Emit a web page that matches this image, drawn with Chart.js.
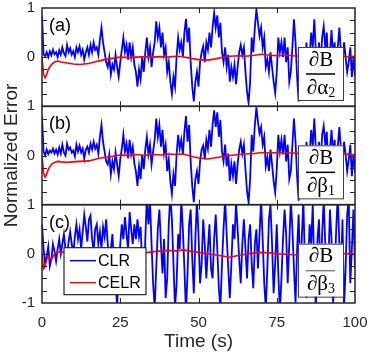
<!DOCTYPE html>
<html>
<head>
<meta charset="utf-8">
<script src="https://cdn.jsdelivr.net/npm/chart.js@4.4.1/dist/chart.umd.min.js"></script>
<style>
  html, body { margin: 0; padding: 0; background: #fff; }
  #wrap { width: 374px; height: 359px; }
</style>
</head>
<body>
<div id="wrap"><canvas id="errChart" width="374" height="359"></canvas></div>
<script>
// sampling of the CLR traces (s between samples)
const sampleStep = 0.5;

// CLR (blue), panel (a), one value every 0.5 s from 0 to 100 s
const clrA = [
  0.85, 0.05, 0.02, 0.1, 0.0, 0.12, 0.04, 0.15, 0.06, 0.1,
  0.0, 0.14, 0.05, 0.2, 0.08, 0.02, 0.25, 0.1, 0.18, 0.05,
  0.12, 0.0, 0.2, 0.1, 0.22, 0.05, 0.15, -0.05, 0.1, 0.2,
  0.05, 0.25, 0.1, 0.3, 0.15, 0.2, 0.05, 0.35, 0.6, 0.3,
  0.1, -0.1, -0.2, 0.0, -0.35, -0.15, -0.25, 0.05, -0.2, -0.4,
  -0.1, 0.15, 0.4, 0.1, 0.25, -0.05, 0.3, 0.0, 0.2, -0.15,
  -0.3, -0.6, -0.25, -0.45, 0.0, -0.3, 0.1, 0.4, 0.0, 0.2,
  -0.2, 0.1, 0.3, 0.73, 0.4, 0.6, 0.2, 0.5, 0.05, 0.2,
  -0.3, -0.1, -0.5, -0.75, -0.4, -0.6, 0.0, 0.4, 0.15, 0.3,
  0.0, 0.5, 0.78, 0.3, 0.6, -0.1, -0.6, -0.9, -0.5, -0.3,
  -0.6, -0.1, 0.1, 0.22, -0.1, 0.3, 0.15, 0.5, 0.2, 0.6,
  0.9, 0.6, 0.85, 0.4, 0.7, 0.1, -0.1, 0.2, -0.2, 0.05,
  -0.5, -0.2, -0.4, -0.15, -0.55, -0.2, 0.1, 0.25, 0.05, 0.2,
  -0.3, -0.7, -0.93, -0.5, 0.4, 0.1, 0.6, 0.97, 0.7, 0.43,
  0.6, 0.2, 0.4, -0.2, -0.05, -0.3, 0.1, -0.2, -0.5, -0.73,
  -0.3, 0.4, 0.1, 0.3, 0.0, 0.4, -0.1, 0.2, -0.5, -0.3,
  0.2, 0.77, 0.3, -0.4, -0.9, -0.6, -0.2, 0.1, -0.4, 0.3,
  -0.3, 0.0, 0.5, 0.2, 0.77, 0.1, -0.5, 0.3, -0.2, 0.4,
  0.63, 0.2, 0.5, -0.4, 0.1, 0.55, 0.0, 0.3, -0.3, 0.2,
  0.6, 0.1, -0.2, 0.3, 0.0, -0.3, -0.1, 0.2, -0.4, 0.0,
  -0.4
];

// CLR, panel (b)
const clrB = [
  0.8, 0.08, 0.0, 0.12, 0.03, 0.1, 0.06, 0.14, 0.04, 0.12,
  0.02, 0.16, 0.04, 0.22, 0.06, 0.0, 0.24, 0.12, 0.16, 0.06,
  0.1, -0.02, 0.22, 0.08, 0.2, 0.06, 0.14, -0.06, 0.12, 0.18,
  0.06, 0.24, 0.12, 0.28, 0.14, 0.22, 0.04, 0.38, 0.62, 0.28,
  0.08, -0.12, -0.18, 0.02, -0.38, -0.12, -0.28, 0.06, -0.18, -0.42,
  -0.08, 0.14, 0.42, 0.08, 0.24, -0.06, 0.32, 0.02, 0.18, -0.16,
  -0.32, -0.62, -0.22, -0.48, 0.02, -0.28, 0.12, 0.38, 0.02, 0.22,
  -0.18, 0.08, 0.32, 0.75, 0.38, 0.62, 0.18, 0.52, 0.04, 0.22,
  -0.32, -0.08, -0.52, -0.78, -0.38, -0.62, 0.02, 0.42, 0.14, 0.32,
  0.02, 0.48, 0.8, 0.28, 0.62, -0.12, -0.62, -0.95, -0.48, -0.32,
  -0.58, -0.12, 0.12, 0.2, -0.08, 0.32, 0.14, 0.52, 0.18, 0.62,
  0.92, 0.58, 0.88, 0.38, 0.72, 0.08, -0.12, 0.22, -0.22, 0.04,
  -0.52, -0.18, -0.42, -0.12, -0.58, -0.18, 0.12, 0.28, 0.04, 0.22,
  -0.28, -0.72, -0.95, -0.48, 0.42, 0.08, 0.62, 0.98, 0.68, 0.45,
  0.58, 0.22, 0.38, -0.22, -0.04, -0.32, 0.12, -0.18, -0.52, -0.75,
  -0.28, 0.42, 0.08, 0.32, 0.02, 0.42, -0.12, 0.22, -0.48, -0.32,
  0.22, 0.75, 0.28, -0.42, -0.92, -0.58, -0.22, 0.12, -0.42, 0.28,
  -0.32, 0.02, 0.52, 0.18, 0.75, 0.12, -0.52, 0.28, -0.22, 0.42,
  0.6, 0.22, 0.48, -0.42, 0.12, 0.52, 0.02, 0.32, -0.28, 0.18,
  0.58, 0.12, -0.22, 0.28, 0.02, -0.32, -0.08, 0.22, -0.42, 0.02,
  -0.35
];

// CLR, panel (c) - much noisier, runs off the axes
const clrC = [
  0.6, 0.1, -0.2, -0.05, 0.15, -0.25, -0.1, 0.2, 0.05, -0.15,
  0.1, 0.3, 0.0, 0.2, 0.4, 0.1, -0.05, 0.25, 0.45, 0.2,
  0.0, 0.35, 0.6, 0.3, 0.5, 0.1, 0.45, 0.8, 0.55, 0.25,
  0.7, 0.78, 0.3, 0.05, 0.5, 0.6, 0.2, 0.45, 0.1, 0.55,
  0.35, 0.7, 0.2, -0.3, 0.1, 0.4, -0.2, -0.6, -1.05, -0.4,
  0.2, 0.6, 0.3, 0.75, 0.4, 0.1, 0.85, 0.5, 0.2, 0.6,
  0.3, 0.7, 0.35, 0.55, -0.2, -0.8, 0.3, 1.15, 0.6, 1.05,
  0.2, -0.6, -1.1, -0.3, 0.5, 0.9, 0.2, -0.4, 0.3, -0.9,
  -0.5, 0.6, 1.2, 0.7, -0.2, -1.1, -0.6, 0.4, 0.1, 1.1,
  0.5, -0.3, -1.2, -0.4, 0.6, 0.9, -0.1, -0.8, 0.3, 1.1,
  0.4, -0.6, -0.2, 0.7, 0.2, -0.5, 0.1, 0.6, -0.3, -0.5,
  0.3, 0.8, 0.1, -0.7, -1.1, -0.2, 0.5, 1.1, 0.4, -0.3,
  -0.9, -0.2, 0.6, 0.3, 1.05, 0.5, -0.1, -0.6, 0.2, 0.7,
  0.1, -0.5, 0.3, 0.6, -0.2, -0.7, 0.2, 0.5, -0.3, 0.4,
  1.1, 0.3, -0.6, -1.1, -0.3, 0.7, 1.0, 0.2, -0.8, -0.2,
  0.6, -0.4, -1.2, -0.5, 0.3, 0.9, 0.4, -0.6, 0.2, 1.1,
  0.5, -0.3, -1.0, 0.1, 0.8, -0.5, 0.3, 1.1, -0.2, -0.9,
  -0.3, 0.6, 0.2, 1.0, -0.4, -1.1, 0.3, 0.7, -0.6, 0.4,
  1.1, 0.2, -0.7, -0.2, 0.9, 0.3, -1.0, -0.4, 0.5, 1.2,
  0.2, -0.5, 0.7, -1.1, -0.3, 0.8, 1.1, -0.6, 0.1, 0.9,
  -0.3
];

// CELR (red) is smooth, so it is read at fewer times
const celrTimes = [0, 0.5, 1, 1.5, 2, 3, 4, 5, 6, 8, 10, 12, 15, 18, 20, 23, 25, 28, 30, 33, 35, 38, 40, 43,
  45, 48, 50, 53, 55, 58, 60, 63, 65, 68, 70, 73, 75, 78, 80, 83, 85, 88, 90, 93, 95, 98, 100];
const celrA = [0, -0.35, -0.42, -0.35, -0.25, -0.15, -0.1, -0.08, -0.1, -0.12, -0.14, -0.15, -0.13, -0.08, -0.05, -0.02,
  0.0, -0.01, 0.0, 0.01, 0.0, 0.01, 0.0, 0.02, 0.01, -0.03, -0.05, -0.06, -0.04, 0.0, 0.02, 0.03, 0.02, 0.04,
  0.06, 0.04, 0.03, 0.04, 0.03, 0.02, 0.03, 0.02, 0.03, 0.02, 0.02, 0.01, 0.02];
const celrB = [0, -0.35, -0.44, -0.38, -0.28, -0.18, -0.14, -0.12, -0.13, -0.14, -0.13, -0.12, -0.11, -0.06, -0.04, -0.01,
  0.01, 0.0, 0.02, 0.0, 0.02, 0.01, 0.03, 0.02, 0.03, -0.02, -0.05, -0.07, -0.05, -0.02, 0.0, 0.02, 0.03, 0.04,
  0.06, 0.05, 0.06, 0.05, 0.05, 0.04, 0.05, 0.03, 0.04, 0.03, 0.02, 0.03, 0.01];
const celrC = [0, -0.3, -0.25, -0.12, -0.05, -0.12, 0.0, 0.05, 0.02, 0.06, 0.05, 0.07, 0.05, 0.06, 0.04, 0.05,
  0.03, 0.04, 0.03, 0.02, 0.04, 0.06, 0.07, 0.06, 0.08, 0.05, 0.03, 0.0, -0.02, -0.05, -0.07, -0.03, -0.01, 0.02,
  0.03, 0.02, 0.0, -0.01, -0.02, -0.03, -0.01, 0.0, -0.01, 0.0, 0.01, 0.0, 0.0];

const xTicks = [0, 25, 50, 75, 100];
const panelNames = ['(a)', '(b)', '(c)'];
// partial derivative shown in each panel: numerator, denominator, subscript
const panelDerivs = [['\u2202B', '\u2202\u03b1', '2'], ['\u2202B', '\u2202\u03b2', '1'], ['\u2202B', '\u2202\u03b2', '3']];

const axisColor = '#262626';
const sans = '"Liberation Sans", Arial, sans-serif';
const serif = '"Liberation Serif", "Times New Roman", serif';

function toPoints(times, values) {
  return values.map((v, i) => ({x: times[i], y: v}));
}
const clrTimes = clrA.map((_, i) => i * sampleStep);

// label gap comes from an invisible tick mark, so the layout padding stays small
function yAxis(weight, showBottom, withTitle) {
  return {
    type: 'linear',
    position: 'left',
    stack: 'panels',
    stackWeight: 1,
    weight: weight,
    min: -1,
    max: 1,
    grid: {display: true, drawOnChartArea: false, drawTicks: true, tickLength: 7, tickColor: 'rgba(0,0,0,0)'},
    border: {display: false},
    ticks: {
      stepSize: 1,
      padding: 0,
      color: axisColor,
      font: {family: sans, size: 15, lineHeight: 1},
      callback: v => (v === -1 && !showBottom) ? '' : String(v)
    },
    title: {
      display: withTitle,
      text: 'Normalized Error',
      color: axisColor,
      font: {family: sans, size: 19},
      padding: {top: 0, bottom: 0}
    },
    afterFit: s => { s.width = 42; }
  };
}

const panelAxes = ['ya', 'yb', 'yc'];

// clip each trace to its own panel, then draw frames, ticks, labels, boxes
const panelDecor = {
  id: 'panelDecor',
  beforeDatasetDraw(chart, args) {
    const ys = args.meta.yScale, a = chart.chartArea, ctx = chart.ctx;
    ctx.save();
    ctx.beginPath();
    ctx.rect(a.left, ys.top, a.right - a.left, ys.bottom - ys.top);
    ctx.clip();
  },
  afterDatasetDraw(chart) {
    chart.ctx.restore();
  },
  afterDatasetsDraw(chart) {
    const ctx = chart.ctx, a = chart.chartArea, xs = chart.scales.x;
    ctx.save();
    panelAxes.forEach((id, p) => {
      const ys = chart.scales[id];
      // inward tick marks
      ctx.strokeStyle = axisColor;
      ctx.lineWidth = 1;
      ctx.beginPath();
      for (let v = -0.75; v <= 0.75; v += 0.25) {
        const y = Math.round(ys.getPixelForValue(v)) + 0.5;
        ctx.moveTo(a.left, y); ctx.lineTo(a.left + 5, y);
        ctx.moveTo(a.right, y); ctx.lineTo(a.right - 5, y);
      }
      xTicks.slice(1, -1).forEach(t => {
        const x = Math.round(xs.getPixelForValue(t)) + 0.5;
        ctx.moveTo(x, ys.top); ctx.lineTo(x, ys.top + 5);
        ctx.moveTo(x, ys.bottom); ctx.lineTo(x, ys.bottom - 5);
      });
      ctx.stroke();

      // panel letter
      ctx.fillStyle = '#000';
      ctx.font = '18px ' + sans;
      ctx.textAlign = 'left';
      ctx.textBaseline = 'middle';
      ctx.fillText(panelNames[p], a.left + 7, ys.top + 18);

      // derivative box
      const bx = a.right - 57, by = ys.top + 39, bw = 45, bh = 53;
      ctx.fillStyle = '#fff';
      ctx.fillRect(bx, by, bw, bh);
      ctx.strokeStyle = '#404040';
      ctx.strokeRect(bx + 0.5, by + 0.5, bw, bh);
      const cx = bx + bw / 2 + 0.5;
      const d = panelDerivs[p];
      ctx.fillStyle = '#000';
      ctx.font = '21px ' + serif;
      ctx.textAlign = 'center';
      ctx.fillText(d[0], cx, by + 13);
      ctx.strokeStyle = p === 2 ? '#808080' : '#000';
      ctx.lineWidth = 1.5;
      ctx.beginPath();
      ctx.moveTo(bx + 8, by + 27); ctx.lineTo(bx + 37, by + 27);
      ctx.stroke();
      ctx.font = '21px ' + serif;
      const w1 = ctx.measureText(d[1]).width;
      ctx.font = '14px ' + serif;
      const w2 = ctx.measureText(d[2]).width;
      const sx = cx - (w1 + w2) / 2;
      ctx.textAlign = 'left';
      ctx.font = '21px ' + serif;
      ctx.fillText(d[1], sx, by + 41);
      ctx.font = '14px ' + serif;
      ctx.fillText(d[2], sx + w1, by + 46);
    });

    // panel frames
    ctx.strokeStyle = axisColor;
    ctx.lineWidth = 1.5;
    panelAxes.forEach(id => {
      const ys = chart.scales[id];
      ctx.strokeRect(a.left, ys.top, a.right - a.left, ys.bottom - ys.top);
    });

    // legend in panel (c)
    const yc = chart.scales.yc;
    const lx = a.left + 22, ly = yc.top + 43, lw = 82, lh = 47;
    ctx.fillStyle = '#fff';
    ctx.fillRect(lx, ly, lw, lh);
    ctx.lineWidth = 1.2;
    ctx.strokeStyle = axisColor;
    ctx.strokeRect(lx, ly, lw, lh);
    const entries = ['CLR', 'CELR'].map(lbl => chart.data.datasets.find(ds => ds.label === lbl));
    entries.forEach((ds, i) => {
      const yy = ly + 13 + i * 22;
      ctx.strokeStyle = ds.borderColor;
      ctx.lineWidth = 1.5;
      ctx.beginPath();
      ctx.moveTo(lx + 6, yy); ctx.lineTo(lx + 32, yy);
      ctx.stroke();
      ctx.fillStyle = '#000';
      ctx.font = '16px ' + sans;
      ctx.textAlign = 'left';
      ctx.textBaseline = 'middle';
      ctx.fillText(ds.label, lx + 34, yy + 1);
    });
    ctx.restore();
  }
};

const clrSets = [clrA, clrB, clrC];
const celrSets = [celrA, celrB, celrC];
const datasets = [];
panelAxes.forEach((id, p) => {
  datasets.push({
    label: 'CELR', data: toPoints(celrTimes, celrSets[p]), yAxisID: id, order: 0,
    borderColor: '#ff0000', borderWidth: 1.6, pointRadius: 0, tension: 0, fill: false
  });
  datasets.push({
    label: 'CLR', data: toPoints(clrTimes, clrSets[p]), yAxisID: id, order: 1,
    borderColor: '#0000ff', borderWidth: 1.8, pointRadius: 0, tension: 0, fill: false
  });
});

new Chart(document.getElementById('errChart').getContext('2d'), {
  type: 'line',
  data: {datasets: datasets},
  options: {
    responsive: false,
    animation: false,
    layout: {padding: {top: 8, right: 19, left: 0, bottom: 0}},
    plugins: {legend: {display: false}, tooltip: {enabled: false}},
    scales: {
      x: {
        type: 'linear',
        position: 'bottom',
        min: 0,
        max: 100,
        grid: {display: true, drawOnChartArea: false, drawTicks: true, tickLength: 11, tickColor: 'rgba(0,0,0,0)'},
        border: {display: false},
        afterBuildTicks: s => { s.ticks = xTicks.map(v => ({value: v})); },
        ticks: {padding: 0, color: axisColor, font: {family: sans, size: 15}, maxRotation: 0},
        title: {display: true, text: 'Time (s)', color: axisColor, font: {family: sans, size: 19}, padding: {top: 0, bottom: 6}},
        afterFit: s => { s.height = 56; }
      },
      ya: yAxis(3, false, false),
      yb: yAxis(2, false, true),
      yc: yAxis(1, true, false)
    }
  },
  plugins: [panelDecor]
});
</script>
</body>
</html>
